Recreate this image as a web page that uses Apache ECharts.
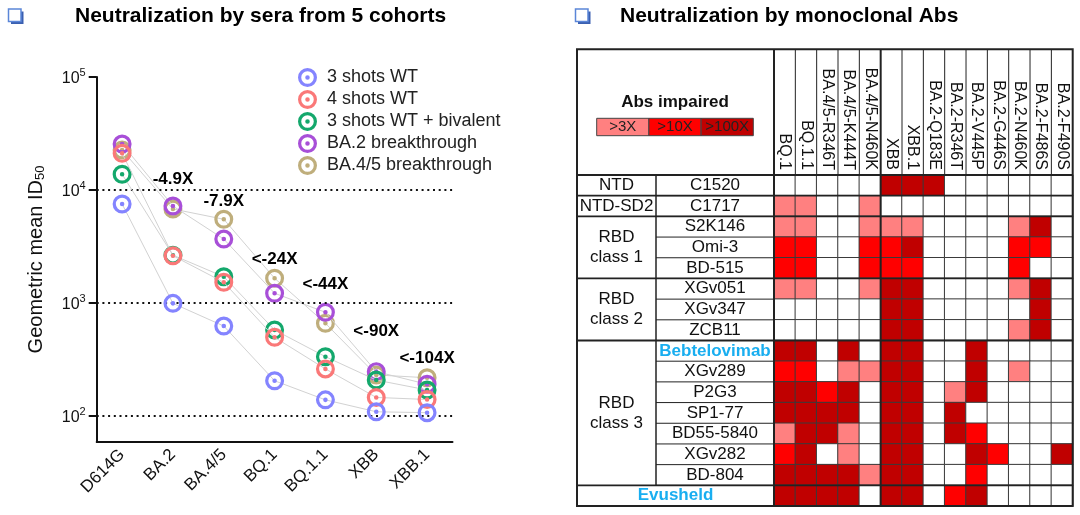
<!DOCTYPE html>
<html><head><meta charset="utf-8">
<script src="https://cdn.jsdelivr.net/npm/echarts@6/dist/echarts.min.js"></script>
<style>html,body{margin:0;padding:0;background:#fff}#c{width:1080px;height:515px}</style>
</head><body><div id="c"></div>
<script>
// ---------- Left panel data ----------
const categories = ['D614G', 'BA.2', 'BA.4/5', 'BQ.1', 'BQ.1.1', 'XBB', 'XBB.1'];
const cohortNames = ['3 shots WT', '4 shots WT', '3 shots WT + bivalent', 'BA.2 breakthrough', 'BA.4/5 breakthrough'];
const shots3WT      = [7520, 993, 625, 205, 139, 109, 107];
const shots4WT      = [21100, 2620, 1525, 497, 261, 146, 140];
const shots3Biv     = [13770, 2650, 1710, 577, 335, 208, 170];
const ba2Break      = [25500, 7210, 3680, 1220, 828, 247, 191];
const ba45Break     = [22600, 6790, 5510, 1655, 661, 231, 218];
const yTickValues   = [100, 1000, 10000, 100000];
const dottedRefs    = [100, 1000, 10000];
const foldLabels    = ['-4.9X', '-7.9X', '<-24X', '<-44X', '<-90X', '<-104X'];
const foldLabelCats = ['BA.2', 'BA.4/5', 'BQ.1', 'BQ.1.1', 'XBB', 'XBB.1'];
const foldLabelY    = [12450, 7870, 2450, 1466, 565, 324];

// ---------- Right panel data ----------
const mutations = ['BQ.1', 'BQ.1.1', 'BA.4/5-R346T', 'BA.4/5-K444T', 'BA.4/5-N460K', 'XBB', 'XBB.1',
  'BA.2-Q183E', 'BA.2-R346T', 'BA.2-V445P', 'BA.2-G446S', 'BA.2-N460K', 'BA.2-F486S', 'BA.2-F490S'];
const antibodies = ['C1520', 'C1717', 'S2K146', 'Omi-3', 'BD-515', 'XGv051', 'XGv347', 'ZCB11',
  'Bebtelovimab', 'XGv289', 'P2G3', 'SP1-77', 'BD55-5840', 'XGv282', 'BD-804', 'Evusheld'];
const groupNames = ['NTD', 'NTD-SD2', 'RBD\nclass 1', 'RBD\nclass 2', 'RBD\nclass 3', ''];
const groupSizes = [1, 1, 3, 3, 7, 1];
// 0 = none, 1 = >3X, 2 = >10X, 3 = >100X
const impairment = [
  [0,0,0,0,0,3,3,3,0,0,0,0,0,0],
  [1,1,0,0,1,0,0,0,0,0,0,0,0,0],
  [1,1,0,0,1,1,1,0,0,0,0,1,3,0],
  [2,2,0,0,2,2,3,0,0,0,0,2,2,0],
  [2,2,0,0,2,2,2,0,0,0,0,2,0,0],
  [1,1,0,0,1,3,3,0,0,0,0,1,3,0],
  [0,0,0,0,0,3,3,0,0,0,0,0,3,0],
  [0,0,0,0,0,3,3,0,0,0,0,1,3,0],
  [3,3,0,3,0,3,3,0,0,3,0,0,0,0],
  [2,2,0,1,1,3,3,0,0,3,0,1,0,0],
  [3,3,2,3,0,3,3,0,1,3,0,0,0,0],
  [3,3,3,3,0,3,3,0,3,0,0,0,0,0],
  [1,3,3,1,0,3,3,0,3,2,0,0,0,0],
  [2,3,0,1,0,3,3,0,0,3,2,0,0,3],
  [3,3,3,3,1,3,3,0,0,2,0,0,0,0],
  [3,3,3,3,0,3,3,0,2,3,0,0,0,0]
];
const levelLabels = ['>3X', '>10X', '>100X'];
const levelColors = ['#ffffff', '#ff8080', '#ff0000', '#c00000'];

// ---------- Styling ----------
const FONT = '"Liberation Sans", Arial, sans-serif';
const cohortColors = ['#8484ff', '#fa7878', '#14a86c', '#a84fd8', '#bfae7c'];
const cohortZ = [7, 6, 5, 4, 3];
const RING = 'path://M10 0A10 10 0 1 1 10 20A10 10 0 1 1 10 0ZM10 3.4A6.6 6.6 0 1 0 10 16.6A6.6 6.6 0 1 0 10 3.4ZM10 7.6A2.4 2.4 0 1 1 10 12.4A2.4 2.4 0 1 1 10 7.6Z';
const cohortData = [shots3WT, shots4WT, shots3Biv, ba2Break, ba45Break];

// table geometry
const T = { left: 577, nameLeft: 656, gridLeft: 774, right: 1072.7, top: 49.3, gridTop: 175, bottom: 506 };
const rowH = (T.bottom - T.gridTop) / antibodies.length;
const colW = (T.right - T.gridLeft) / mutations.length;

const chart = echarts.init(document.getElementById('c'), null, { renderer: 'canvas' });

// line series
const series = cohortNames.map((name, i) => ({
  name, type: 'line', xAxisIndex: 0, yAxisIndex: 0,
  data: cohortData[i],
  symbol: RING, symbolSize: 19, z: cohortZ[i],
  itemStyle: { color: cohortColors[i] },
  lineStyle: { color: '#d2d2d2', width: 1 },
  emphasis: { disabled: true }, silent: true,
  markLine: i === 4 ? {
    silent: true, symbol: 'none', label: { show: false },
    lineStyle: { color: '#111', width: 2, type: [2, 3.7] },
    data: dottedRefs.map(v => ({ yAxis: v }))
  } : undefined
}));

series.push({
  type: 'scatter', xAxisIndex: 0, yAxisIndex: 0, symbolSize: 0, silent: true, z: 10,
  itemStyle: { color: '#000', opacity: 1 },
  data: foldLabels.map((t, i) => [foldLabelCats[i], foldLabelY[i], t]),
  label: { show: true, position: 'inside', formatter: p => p.data[2],
    fontSize: 17, fontWeight: 'bold', color: '#000', textBorderWidth: 0, fontFamily: FONT }
});

// heatmap
const heatData = [];
impairment.forEach((row, r) => row.forEach((v, c) => heatData.push([c, r, v])));
series.push({
  type: 'heatmap', xAxisIndex: 1, yAxisIndex: 1, data: heatData, silent: true,
  itemStyle: { borderColor: '#3a3a3a', borderWidth: 1 },
  emphasis: { disabled: true }
});

// group label map (label at the middle row of each group)
const groupLabelByRow = {};
let acc = 0;
groupSizes.forEach((s, g) => { groupLabelByRow[acc + Math.floor(s / 2)] = groupNames[g]; acc += s; });

// graphics
const G = [];
function ln(x1, y1, x2, y2, w) {
  G.push({ type: 'line', z: 100, silent: true, shape: { x1, y1, x2, y2 }, style: { stroke: '#222', lineWidth: w } });
}
for (let i = 1; i < mutations.length; i++) {
  const x = T.gridLeft + i * colW;
  if (i === 5) ln(x, T.top, x, T.bottom, 2); else ln(x, T.top, x, T.gridTop, 1);
}
const lastRowTop = T.gridTop + (antibodies.length - 1) * rowH;
for (let r = 1; r < antibodies.length; r++) {
  const y = T.gridTop + r * rowH;
  ln(T.nameLeft, y, T.gridLeft, y, 1);
}
acc = 0;
groupSizes.forEach((s, g) => {
  acc += s;
  if (acc < antibodies.length) { const y = T.gridTop + acc * rowH; ln(T.left, y, T.right, y, 1.8); }
});
ln(T.nameLeft, T.gridTop, T.nameLeft, lastRowTop, 1.5);
ln(T.gridLeft, T.top, T.gridLeft, T.bottom, 2);
ln(T.left, T.gridTop, T.right, T.gridTop, 2);
G.push({ type: 'rect', z: 101, silent: true, shape: { x: T.left, y: T.top, width: T.right - T.left, height: T.bottom - T.top },
  style: { fill: null, stroke: '#222', lineWidth: 2 } });

// impaired legend
G.push({ type: 'text', z: 100, style: { x: 675, y: 102, text: 'Abs impaired', font: 'bold 17px ' + FONT, fill: '#111', align: 'center', verticalAlign: 'middle' } });
levelLabels.forEach((t, i) => {
  G.push({ type: 'rect', z: 100, shape: { x: 596.7 + i * 52.2, y: 118.3, width: 52.2, height: 17.4 },
    style: { fill: levelColors[i + 1], stroke: '#444', lineWidth: 1 } });
  G.push({ type: 'text', z: 101, style: { x: 596.7 + i * 52.2 + 26.1, y: 127.3, text: t, font: '15px ' + FONT, fill: '#222', align: 'center', verticalAlign: 'middle' } });
});

// titles and icons
function icon(x, y) {
  G.push({ type: 'rect', z: 100, shape: { x: x + 2.5, y: y + 2.5, width: 12.5, height: 12.5 }, style: { fill: '#3a5fb0' } });
  G.push({ type: 'rect', z: 101, shape: { x: x, y: y, width: 12.5, height: 12.5 }, style: { fill: '#fff', stroke: '#5b86d8', lineWidth: 1.5 } });
}
icon(8.5, 9);
icon(575.5, 9);
G.push({ type: 'text', z: 100, style: { x: 75, y: 16, text: 'Neutralization by sera from 5 cohorts', font: 'bold 21px ' + FONT, fill: '#000', verticalAlign: 'middle' } });
G.push({ type: 'text', z: 100, style: { x: 620, y: 16, text: 'Neutralization by monoclonal Abs', font: 'bold 21px ' + FONT, fill: '#000', verticalAlign: 'middle' } });

const option = {
  animation: false,
  backgroundColor: '#fff',
  textStyle: { fontFamily: FONT },
  grid: [
    { left: 96.7, right: 1080 - 452.5, top: 77, bottom: 515 - 442 },
    { left: T.gridLeft, right: 1080 - T.right, top: T.gridTop, bottom: 515 - T.bottom }
  ],
  legend: {
    data: cohortNames.map(n => ({ name: n, icon: RING })),
    orient: 'vertical', left: 293, top: 63, itemWidth: 19, itemHeight: 19, itemGap: 3,
    textStyle: { fontSize: 18, color: '#222', fontFamily: FONT, padding: [0, 0, 0, 5] },
    selectedMode: false
  },
  xAxis: [
    { type: 'category', gridIndex: 0, data: categories, boundaryGap: true,
      axisLine: { lineStyle: { color: '#111', width: 2 } },
      axisTick: { alignWithLabel: true, length: 7, lineStyle: { color: '#111', width: 2 } },
      axisLabel: { rotate: 45, fontSize: 17, color: '#111', margin: 10, interval: 0 },
      splitLine: { show: false } },
    { type: 'category', gridIndex: 1, position: 'top', data: mutations,
      axisLine: { show: false }, axisTick: { show: false }, splitLine: { show: false },
      axisLabel: { rotate: 90, interval: 0, fontSize: 16, color: '#111', margin: 5 } }
  ],
  yAxis: [
    { type: 'log', gridIndex: 0, logBase: 10, min: Math.pow(10, 1.77), max: 100000,
      name: '{a|Geometric mean ID}{s|50}', nameLocation: 'middle', nameGap: 50,
      nameTextStyle: { rich: {
        a: { fontSize: 20, color: '#111', lineHeight: 24, verticalAlign: 'bottom' },
        s: { fontSize: 13, color: '#111', lineHeight: 14, verticalAlign: 'bottom' } } },
      axisLine: { show: true, lineStyle: { color: '#111', width: 2 } },
      axisTick: { show: true, length: 8, lineStyle: { color: '#111', width: 2 }, customValues: yTickValues },
      axisLabel: { margin: 11, customValues: yTickValues,
        formatter: v => { const l = Math.log10(v); const e = Math.round(l); if (Math.abs(l - e) > 1e-6) return ''; return '{b|10}{p|' + e + '}'; },
        rich: { b: { fontSize: 16, color: '#111', lineHeight: 20, verticalAlign: 'bottom' },
                p: { fontSize: 11, color: '#111', lineHeight: 10, verticalAlign: 'top' } } },
      splitLine: { show: false }, minorTick: { show: false } },
    { type: 'category', gridIndex: 1, inverse: true, data: antibodies,
      axisLine: { show: false }, axisTick: { show: false }, splitLine: { show: false },
      axisLabel: { interval: 0, fontSize: 17, color: '#111', align: 'center', margin: 59,
        formatter: v => v === 'Evusheld' ? '' : (v === 'Bebtelovimab' ? '{hl|' + v + '}' : v),
        rich: { hl: { color: '#19aef0', fontWeight: 'bold', fontSize: 17 } } } },
    { type: 'category', gridIndex: 1, inverse: true, data: antibodies, position: 'left',
      axisLine: { show: false }, axisTick: { show: false }, splitLine: { show: false },
      axisLabel: { interval: 0, fontSize: 17, color: '#111', align: 'center', margin: 157.5, lineHeight: 20,
        formatter: (v, idx) => groupLabelByRow[idx] || '' } },
    { type: 'category', gridIndex: 1, inverse: true, data: antibodies, position: 'left',
      axisLine: { show: false }, axisTick: { show: false }, splitLine: { show: false },
      axisLabel: { interval: 0, fontSize: 17, color: '#19aef0', fontWeight: 'bold', align: 'center', margin: 98.5,
        formatter: v => v === 'Evusheld' ? v : '' } }
  ],
  visualMap: {
    type: 'piecewise', show: false, seriesIndex: series.length - 1, dimension: 2,
    pieces: levelColors.map((c, i) => ({ value: i, color: c }))
  },
  graphic: { elements: G },
  series
};
chart.setOption(option);
</script>
</body></html>
